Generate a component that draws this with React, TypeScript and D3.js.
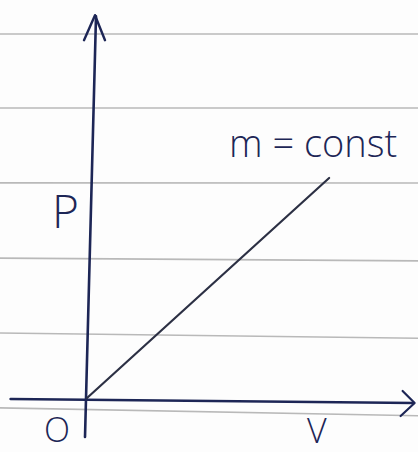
import React from "react";
import * as d3 from "d3";

// P–V relation at constant mass: a straight line through the origin
const volume = [0, 7.45];
const pressure = [0, 5.82];
const lineLabel = "m = const";
const xLabel = "V";
const yLabel = "P";
const originLabel = "O";
// Ruled paper lines (in pressure units, bottom to top)
const ruleLevels = [-0.26, 1.72, 3.7, 5.69, 7.67, 9.63];

const W = 418;
const H = 452;

export default function App() {
  const x = d3.scaleLinear().domain([0, 10]).range([87, 412]);
  const y = d3.scaleLinear().domain([0, 10]).range([398, 20]);

  const ink = "#1d2656";
  const pencil = "#2c3044";
  const rule = "#b9b9b9";

  const line = d3
    .line<number>()
    .x((_, i) => x(volume[i]))
    .y((d) => y(d));

  // paper rules, slightly tilted toward the bottom of the page
  const rules = ruleLevels.map((lv, i) => {
    const yy = y(lv);
    const tilt = Math.max(0, (yy - 180) / 230) * 8;
    return { x1: 0, y1: yy, x2: W, y2: yy + tilt, key: i };
  });

  const x0 = x(0);
  const y0 = y(0);
  const yTop = y(10.1);
  const xEnd = x(10.05);

  return (
    <svg
      width={W}
      height={H}
      style={{ position: "absolute", left: 0, top: 0, background: "#fdfdfd" }}
    >
      {rules.map((r) => (
        <line
          key={r.key}
          x1={r.x1}
          y1={r.y1}
          x2={r.x2}
          y2={r.y2}
          stroke={rule}
          strokeWidth={1.6}
        />
      ))}

      {/* vertical axis with arrow */}
      <path
        d={`M${x0 - 2},${y0 + 39} L${x0 + 9},${yTop}`}
        stroke={ink}
        strokeWidth={2.6}
        fill="none"
        strokeLinecap="round"
      />
      <path
        d={`M${x0 - 3},${yTop + 24} L${x0 + 8},${yTop - 1} L${x0 + 18},${yTop + 24}`}
        stroke={ink}
        strokeWidth={2.4}
        fill="none"
        strokeLinecap="round"
        strokeLinejoin="round"
      />

      {/* horizontal axis with arrow */}
      <path
        d={`M${x(-2.35)},${y0 + 1} L${xEnd},${y0 + 5}`}
        stroke={ink}
        strokeWidth={2.6}
        fill="none"
        strokeLinecap="round"
      />
      <path
        d={`M${xEnd - 11},${y0 - 7} L${xEnd + 1},${y0 + 5} L${xEnd - 13},${y0 + 18}`}
        stroke={ink}
        strokeWidth={2.2}
        fill="none"
        strokeLinecap="round"
        strokeLinejoin="round"
      />

      {/* P–V line */}
      <path
        d={line(pressure) || ""}
        stroke={pencil}
        strokeWidth={2.2}
        fill="none"
        strokeLinecap="round"
      />

      <g fill={ink} fontFamily="'Open Sans', sans-serif" fontWeight={300}>
        <text x={229} y={157} fontSize={38}>
          {lineLabel}
        </text>
        <text x={52} y={228} fontSize={46}>
          {yLabel}
        </text>
        <text x={44} y={442} fontSize={34}>
          {originLabel}
        </text>
        <text x={307} y={443} fontSize={34}>
          {xLabel}
        </text>
      </g>
    </svg>
  );
}
